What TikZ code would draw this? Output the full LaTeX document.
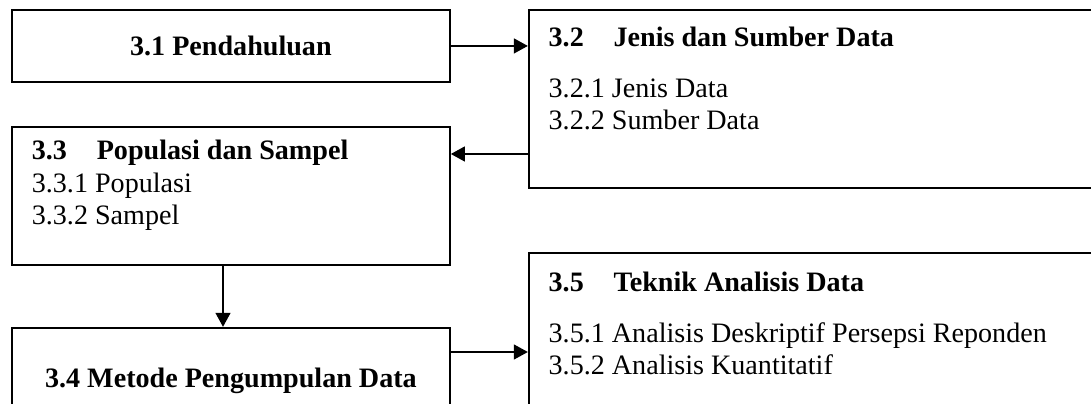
\documentclass[tikz,border=0pt]{standalone}
\usepackage{fontspec}
\setmainfont{Liberation Serif}
\usetikzlibrary{arrows.meta,positioning}
\newcommand{\babfont}{\fontsize{16pt}{18pt}\selectfont}
\newcommand{\nomor}[1]{\makebox[1.3cm][l]{#1}}

\begin{document}
\begin{tikzpicture}[
    x=0.02cm, y=-0.02cm,
    box/.style={draw, line width=1.1pt, inner sep=0pt, anchor=north west},
    head/.style={anchor=base west, inner sep=0pt, font=\babfont\bfseries},
    sub/.style={anchor=base west, inner sep=0pt, font=\babfont},
    arr/.style={-{Triangle[length=0.28cm, width=0.3cm]}, line width=0.8pt}
]
    \useasboundingbox (0,0) rectangle (1091,404);
    \clip (0,0) rectangle (1091,404);

    % boxes
    \node[box, minimum width=8.76cm, minimum height=1.44cm, font=\babfont\bfseries] (p31) at (11,9) {3.1 Pendahuluan};
    \node[box, minimum width=11.9cm, minimum height=3.56cm, right=1.54cm of p31.north east, anchor=north west] (p32) {};
    \node[box, minimum width=8.76cm, minimum height=2.76cm, below=0.86cm of p31.south west, anchor=north west] (p33) {};
    \node[box, minimum width=8.76cm, minimum height=2.2cm, below=1.22cm of p33.south west, anchor=north west] (p34) {};
    \node[box, minimum width=11.9cm, minimum height=3.6cm, below=1.26cm of p32.south west, anchor=north west] (p35) {};

    % texts
    \node[head] (h32) at ([xshift=0.41cm, yshift=-0.75cm]p32.north west) {\nomor{3.2}Jenis dan Sumber Data};
    \node[sub] (s321) at ([xshift=0.41cm, yshift=-1.77cm]p32.north west) {3.2.1 Jenis Data};
    \node[sub] (s322) at ([xshift=0.41cm, yshift=-2.42cm]p32.north west) {3.2.2 Sumber Data};

    \node[head] (h33) at ([xshift=0.41cm, yshift=-0.68cm]p33.north west) {\nomor{3.3}Populasi dan Sampel};
    \node[sub] (s331) at ([xshift=0.41cm, yshift=-1.33cm]p33.north west) {3.3.1 Populasi};
    \node[sub] (s332) at ([xshift=0.41cm, yshift=-1.97cm]p33.north west) {3.3.2 Sampel};

    \node[head, anchor=base] (h34) at ([yshift=-1.22cm]p34.north) {3.4 Metode Pengumpulan Data};

    \node[head] (h35) at ([xshift=0.41cm, yshift=-0.8cm]p35.north west) {\nomor{3.5}Teknik Analisis Data};
    \node[sub] (s351) at ([xshift=0.41cm, yshift=-1.82cm]p35.north west) {3.5.1 Analisis Deskriptif Persepsi Reponden};
    \node[sub] (s352) at ([xshift=0.41cm, yshift=-2.46cm]p35.north west) {3.5.2 Analisis Kuantitatif};

    % arrows
    \coordinate (k2) at (487,154);
    \coordinate (k3) at (223,290);
    \coordinate (k4) at (487,352);
    \draw[arr] (p31.east) -- (p31.east -| p32.west);
    \draw[arr] (k2 -| p32.west) -- (k2 -| p33.east);
    \draw[arr] (k3 |- p33.south) -- (k3 |- p34.north);
    \draw[arr] (k4 -| p34.east) -- (k4 -| p35.west);
\end{tikzpicture}
\end{document}
